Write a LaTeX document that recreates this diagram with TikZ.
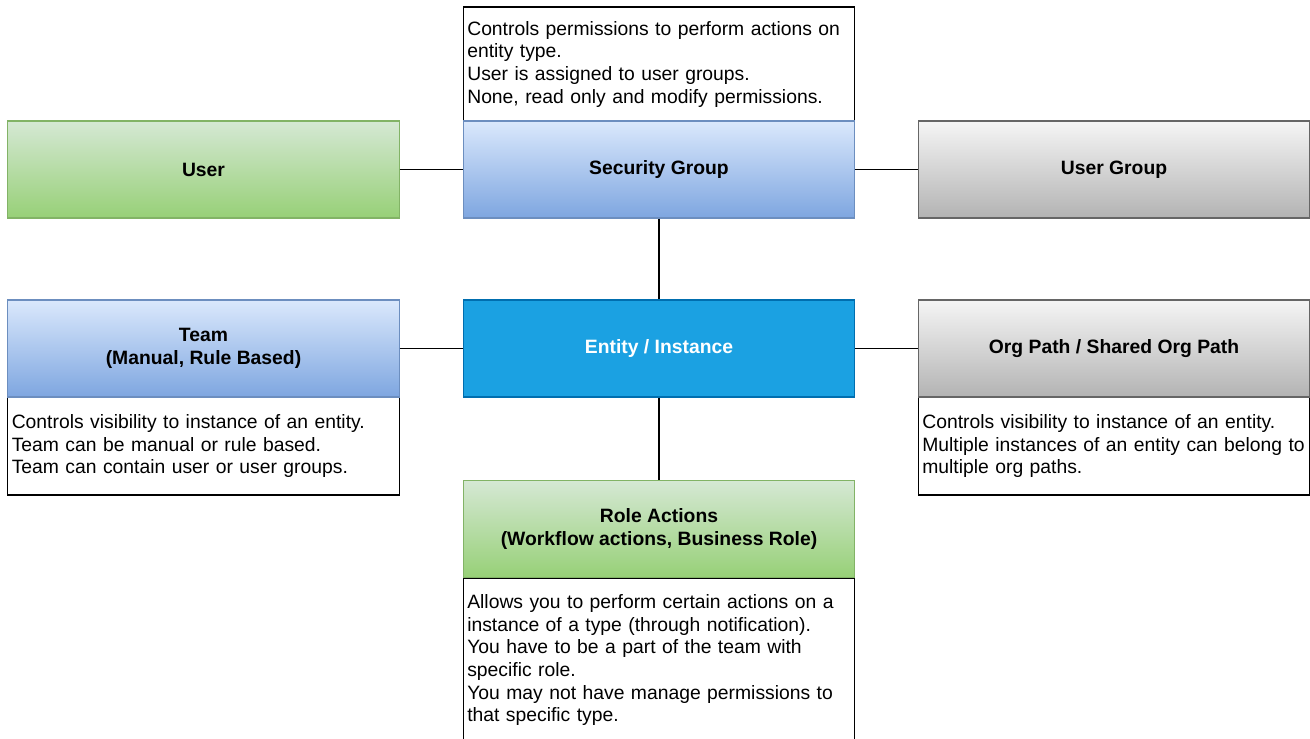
\documentclass[tikz,border=0pt]{standalone}
\usepackage{fontspec}
\setmainfont{Liberation Sans}

\definecolor{greentop}{HTML}{D5E8D4}
\definecolor{greenbot}{HTML}{97D077}
\definecolor{greenline}{HTML}{82B366}
\definecolor{bluetop}{HTML}{DAE8FC}
\definecolor{bluebot}{HTML}{7EA6E0}
\definecolor{blueline}{HTML}{6C8EBF}
\definecolor{graytop}{HTML}{F5F5F5}
\definecolor{graybot}{HTML}{B3B3B3}
\definecolor{grayline}{HTML}{666666}
\definecolor{entityfill}{HTML}{1BA1E2}
\definecolor{entityline}{HTML}{006EAF}

\tikzset{
  box/.style={draw, minimum width=7.83cm, minimum height=1.94cm, align=center,
    inner sep=0pt, line width=0.6pt, font=\fontsize{11}{12.9}\selectfont\bfseries},
  greenbox/.style={box, draw=greenline, top color=greentop, bottom color=greenbot},
  bluebox/.style={box, draw=blueline, top color=bluetop, bottom color=bluebot},
  graybox/.style={box, draw=grayline, top color=graytop, bottom color=graybot},
  entitybox/.style={box, draw=entityline, fill=entityfill, text=white},
  descbox/.style={draw=black, fill=white, text width=7.67cm, inner xsep=0.08cm,
    inner ysep=0pt, align=left, line width=0.6pt, font=\fontsize{11}{12.9}\selectfont},
  link/.style={draw=black, line width=0.7pt}
}

\begin{document}
\begin{tikzpicture}[x=0.02cm, y=-0.02cm]
        \clip (0,0) rectangle (1310,738);

        % description boxes
        \node (sectext) at (659,64) [descbox, minimum height=2.28cm] {Controls permissions to perform actions on\\entity type.\\User is assigned to user groups.\\None, read only and modify permissions.};
        \node (teamtext) at (203.5,446) [descbox, minimum height=1.96cm] {Controls visibility to instance of an entity.\\Team can be manual or rule based.\\Team can contain user or user groups.};
        \node (orgtext) at (1114,446) [descbox, minimum height=1.96cm] {Controls visibility to instance of an entity.\\Multiple instances of an entity can belong to\\multiple org paths.};
        \node (roletext) at (659,660) [descbox, minimum height=3.28cm] {Allows you to perform certain actions on a\\instance of a type (through notification).\\You have to be a part of the team with\\specific role.\\You may not have manage permissions to\\that specific type.};

        % main boxes
        \node (user) at (203.5,169.5) [greenbox] {User};
        \node (secgroup) at (659,169.5) [bluebox] {Security Group};
        \node (usergroup) at (1114,169.5) [graybox] {User Group};
        \node (team) at (203.5,348.5) [bluebox] {Team\\(Manual, Rule Based)};
        \node (entity) at (659,348.5) [entitybox] {Entity / Instance};
        \node (orgpath) at (1114,348.5) [graybox] {Org Path / Shared Org Path};
        \node (role) at (659,529) [greenbox] {Role Actions\\(Workflow actions, Business Role)};

        \draw[link] (user) -- (secgroup);
        \draw[link] (secgroup) -- (usergroup);
        \draw[link] (secgroup) -- (entity);
        \draw[link] (team) -- (entity);
        \draw[link] (entity) -- (orgpath);
        \draw[link] (entity) -- (role);
    \end{tikzpicture}
\end{document}
